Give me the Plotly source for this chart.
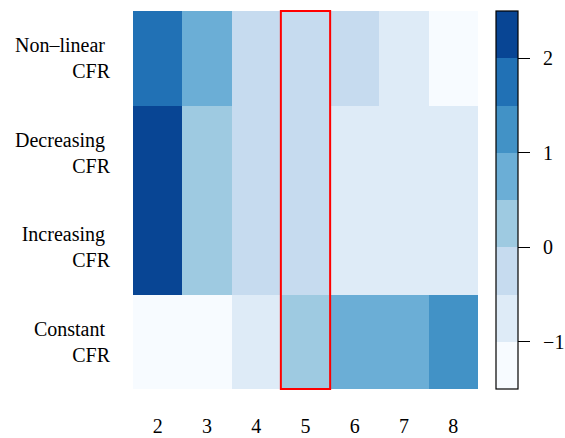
import plotly.graph_objects as go

# Number of groups on the x axis
groups = [2, 3, 4, 5, 6, 7, 8]

# Row labels, top to bottom
row_labels = ["Non–linear&nbsp;<br>CFR", "Decreasing&nbsp;<br>CFR",
              "Increasing&nbsp;<br>CFR", "Constant&nbsp;<br>CFR"]

# Scores per row (one value per group)
nonlinear = [1.75, 0.75, -0.25, -0.25, -0.25, -0.75, -1.25]
decreasing = [2.25, 0.25, -0.25, -0.25, -0.75, -0.75, -0.75]
increasing = [2.25, 0.25, -0.25, -0.25, -0.75, -0.75, -0.75]
constant = [-1.25, -1.25, -0.75, 0.25, 0.75, 0.75, 1.25]

# Colour scale breaks and Blues palette (8 classes)
breaks = [-1.5, -1.0, -0.5, 0.0, 0.5, 1.0, 1.5, 2.0, 2.5]
palette = ["#F7FBFF", "#DEEBF7", "#C6DBEF", "#9ECAE1",
           "#6BAED6", "#4292C6", "#2171B5", "#084594"]
cbar_ticks = [-1, 0, 1, 2]
cbar_labels = ["−1", "0", "1", "2"]

highlight_group = 5

# Stepped colourscale so each class is a flat band
zmin, zmax = breaks[0], breaks[-1]
colorscale = []
for i, c in enumerate(palette):
    lo = (breaks[i] - zmin) / (zmax - zmin)
    hi = (breaks[i + 1] - zmin) / (zmax - zmin)
    colorscale.append([lo, c])
    colorscale.append([hi, c])

z = [nonlinear, decreasing, increasing, constant]

font_family = "Liberation Serif"
W, H = 565, 438

fig = go.Figure(go.Heatmap(
    x=groups,
    y=list(range(len(row_labels))),
    z=z,
    zmin=zmin,
    zmax=zmax,
    colorscale=colorscale,
    xgap=0,
    ygap=0,
    colorbar=dict(
        xref="container", x=496 / W, xanchor="left", xpad=0,
        y=0.5, yanchor="middle", ypad=0,
        len=1, lenmode="fraction",
        thickness=22,
        outlinewidth=1.2, outlinecolor="black",
        ticks="outside", ticklen=12, tickcolor="black", tickwidth=1.2,
        tickvals=cbar_ticks,
        ticktext=["&nbsp;\u2009" + t for t in cbar_labels],
        tickfont=dict(family=font_family, size=20, color="black"),
    ),
))

fig.add_shape(
    type="rect",
    x0=highlight_group - 0.5, x1=highlight_group + 0.5,
    y0=0, y1=1, xref="x", yref="y domain",
    line=dict(color="red", width=2),
    fillcolor="rgba(0,0,0,0)",
)

fig.update_layout(
    width=W, height=H,
    margin=dict(l=133, r=87, t=11, b=49),
    paper_bgcolor="white",
    plot_bgcolor="white",
    font=dict(family=font_family, size=20, color="black"),
    xaxis=dict(
        tickvals=groups, ticktext=[str(g) for g in groups],
        ticks="", showgrid=False, zeroline=False, showline=False,
        tickfont=dict(size=20),
        ticklabelstandoff=23,
        automargin=False,
        range=[groups[0] - 0.5, groups[-1] + 0.5],
    ),
    yaxis=dict(
        tickvals=list(range(len(row_labels))), ticktext=row_labels,
        ticks="", showgrid=False, zeroline=False, showline=False,
        autorange="reversed",
        automargin=False,
        ticklabelstandoff=22,
    ),
)

fig.write_html("out.html")
